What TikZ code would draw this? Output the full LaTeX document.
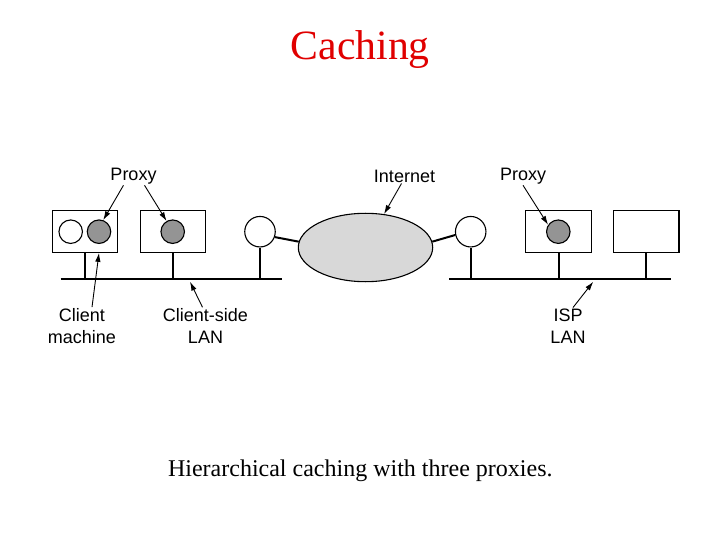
\documentclass[tikz,border=0pt]{standalone}
\usepackage{fontspec}
\setmainfont{Liberation Serif}
\newfontfamily\labelfont{Liberation Sans}
\usetikzlibrary{shapes.geometric,arrows.meta}
\definecolor{titlered}{RGB}{224,0,0}
\definecolor{cachegray}{RGB}{148,148,148}
\definecolor{netgray}{RGB}{216,216,216}

\begin{document}
\begin{tikzpicture}[x=1pt,y=-1pt,
        box/.style={draw,line width=1.1pt,minimum width=65.6pt,minimum height=41.6pt,inner sep=0pt},
        host/.style={draw,circle,line width=1.1pt,minimum size=23.5pt,inner sep=0pt,fill=white},
        cache/.style={host,fill=cachegray},
        router/.style={draw,circle,line width=1.1pt,minimum size=30.5pt,inner sep=0pt,fill=white},
        stem/.style={line width=2pt},
        lan/.style={line width=1.6pt},
        pointer/.style={-{Latex[length=9pt,width=5.5pt]},line width=0.9pt},
        lbl/.style={font=\labelfont\fontsize{18}{22}\selectfont,align=center,inner sep=1pt}]

    \path[use as bounding box] (0,0) rectangle (720,540);

    \node[anchor=base,text=titlered,font=\fontsize{41.7}{48}\selectfont] (title) at (360.3,59.3) {Caching};
    \node[anchor=base,font=\fontsize{24}{28}\selectfont] (caption) at (360.3,476) {Hierarchical caching with three proxies.};

    \coordinate (lanL1) at (60.7,279);
    \coordinate (lanL2) at (281.7,279);
    \coordinate (lanR1) at (449.3,279);
    \coordinate (lanR2) at (670.7,279);
    \draw[lan] (lanL1) -- (lanL2);
    \draw[lan] (lanR1) -- (lanR2);

    \node[box] (b1) at (85,231.5) {};
    \node[box] (b2) at (172.9,231.5) {};
    \node[box] (b3) at (558.7,231.5) {};
    \node[box] (b4) at (646.2,231.5) {};
    \node[host] (c1) at (70.7,231.7) {};
    \node[cache] (g1) at (99,231.7) {};
    \node[cache] (g2) at (172.7,231.7) {};
    \node[cache] (g3) at (558.3,231.7) {};

    \draw[stem] (b1.south) -- (b1.south |- lanL1);
    \draw[stem] (b2.south) -- (b2.south |- lanL1);
    \draw[stem] (b3.south) -- (b3.south |- lanR1);
    \draw[stem] (b4.south) -- (b4.south |- lanR1);

    \node[router] (rL) at (260,231.7) {};
    \node[router] (rR) at (470.7,231.7) {};
    \draw[stem] (rL.south) -- (rL.south |- lanL1);
    \draw[stem] (rR.south) -- (rR.south |- lanR1);

    \node[draw,ellipse,line width=1.1pt,fill=netgray,minimum width=134.4pt,minimum height=68.4pt] (net) at (365.5,247.5) {};
    \draw[stem] (rL.-20) -- (net.175);
    \draw[stem] (net.5) -- (rR.192);

    \node[lbl] (pxL) at (133.5,176) {Proxy};
    \node[lbl] (inet) at (404.5,176) {Internet};
    \node[lbl] (pxR) at (523,176) {Proxy};
    \node[lbl] (cm) at (82,326) {Client\\machine};
    \node[lbl] (cs) at (205.5,326) {Client-side\\LAN};
    \node[lbl] (isp) at (568,326) {ISP\\LAN};

    \coordinate (csT) at (190,281.7);
    \coordinate (ispT) at (593.3,281.7);

    \draw[pointer] ([xshift=-10]pxL.south) -- (g1.70);
    \draw[pointer] ([xshift=11]pxL.south) -- (g2.120);
    \draw[pointer] ([xshift=-3]inet.south) -- (net.61);
    \draw[pointer] (pxR.south) -- (g3.146);
    \draw[pointer] ([xshift=10]cm.north) -- (g1 |- b1.south);
    \draw[pointer] ([xshift=-3]cs.north) -- (csT);
    \draw[pointer] ([xshift=5]isp.north) -- (ispT);
\end{tikzpicture}
\end{document}
